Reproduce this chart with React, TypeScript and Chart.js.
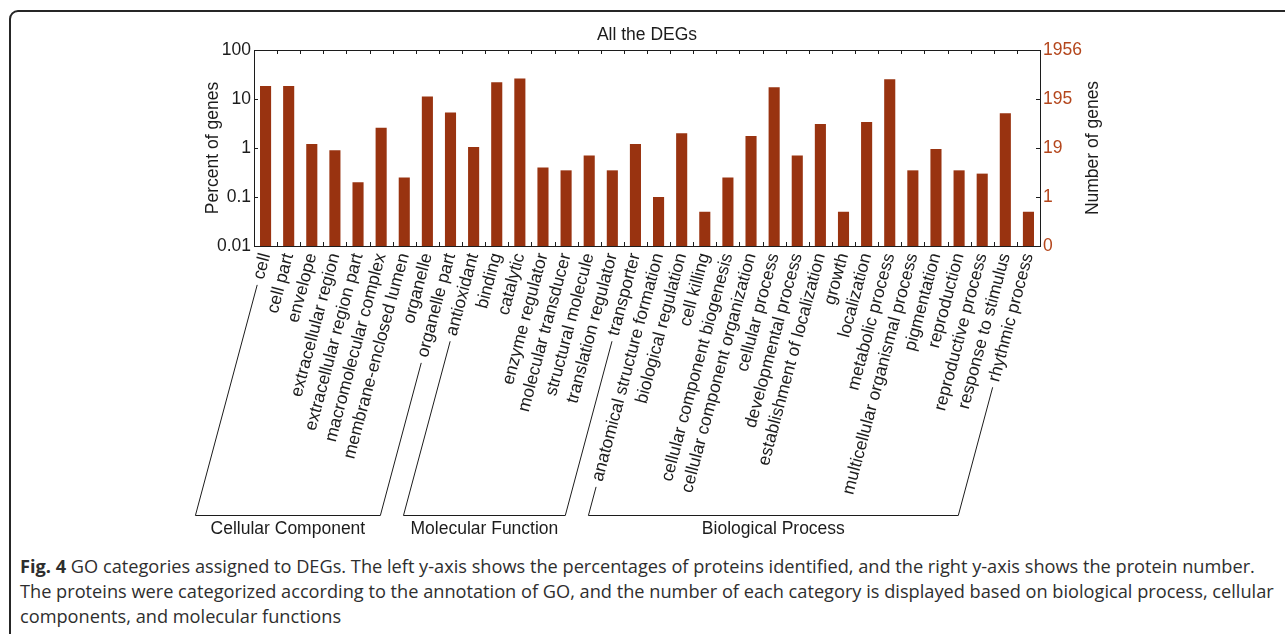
import React, { useEffect, useRef } from "react";
import { Chart, registerables } from "chart.js";

Chart.register(...registerables);

// GO categories, in plotting order
const CATEGORIES = [
  "cell",
  "cell part",
  "envelope",
  "extracellular region",
  "extracellular region part",
  "macromolecular complex",
  "membrane-enclosed lumen",
  "organelle",
  "organelle part",
  "antioxidant",
  "binding",
  "catalytic",
  "enzyme regulator",
  "molecular transducer",
  "structural molecule",
  "translation regulator",
  "transporter",
  "anatomical structure formation",
  "biological regulation",
  "cell killing",
  "cellular component biogenesis",
  "cellular component organization",
  "cellular process",
  "developmental process",
  "establishment of localization",
  "growth",
  "localization",
  "metabolic process",
  "multicellular organismal process",
  "pigmentation",
  "reproduction",
  "reproductive process",
  "response to stimulus",
  "rhythmic process",
];

// Percent of DEGs annotated to each category
const PERCENT = [
  18.5, 18.5, 1.2, 0.9, 0.2, 2.6, 0.25, 11.2, 5.3,
  1.05, 21.9, 26.1, 0.4, 0.35, 0.7, 0.35, 1.2,
  0.1, 2.0, 0.05, 0.25, 1.75, 17.4, 0.7, 3.1, 0.05, 3.4, 25.3, 0.35, 0.95, 0.35, 0.3, 5.1, 0.05,
];

// GO domains and how many consecutive categories belong to each
const GROUPS = ["Cellular Component", "Molecular Function", "Biological Process"];
const GROUP_SIZES = [9, 8, 17];

// Axis ticks (percent) and the gene total used for the right-hand axis
const TICK_VALUES = [0.01, 0.1, 1, 10, 100];
const TOTAL_GENES = 1956;

const TITLE = "All the DEGs";
const LEFT_TITLE = "Percent of genes";
const RIGHT_TITLE = "Number of genes";

const FAMILY = "'Liberation Sans', Arial, Helvetica, sans-serif";
const INK = "#1c1c1c";
const BAR = "#993310";
const RIGHT_INK = "#b4461c";
const FONT_SIZE = 17.5;
const ROTATION = 75;
const LABEL_PAD = 5;
const TICK_LEN = 4;
const BRACKET_GAP = 6;
const BRACKET_DROP = 269;

const CANVAS_W = 1285;
const CANVAS_H = 548;
const PLOT_LEFT = 254;
const PLOT_RIGHT = 1040;
const PLOT_BOTTOM = 246;

const decorPlugin = {
  id: "decor",
  afterDraw(chart: any) {
    const { ctx, chartArea: a, scales } = chart;
    const xs = scales.x;
    const ys = scales.y;
    ctx.save();

    // axes box
    ctx.strokeStyle = INK;
    ctx.lineWidth = 1;
    ctx.strokeRect(
      Math.round(a.left) + 0.5,
      Math.round(a.top) + 0.5,
      Math.round(a.right - a.left),
      Math.round(a.bottom - a.top)
    );

    // inward tick marks: between categories on x, at decades on y
    ctx.beginPath();
    for (let i = 1; i < CATEGORIES.length; i++) {
      const px = Math.round((xs.getPixelForTick(i - 1) + xs.getPixelForTick(i)) / 2) + 0.5;
      ctx.moveTo(px, a.bottom);
      ctx.lineTo(px, a.bottom - TICK_LEN);
      ctx.moveTo(px, a.top);
      ctx.lineTo(px, a.top + TICK_LEN);
    }
    for (const v of TICK_VALUES) {
      const py = Math.round(ys.getPixelForValue(v)) + 0.5;
      ctx.moveTo(a.left, py);
      ctx.lineTo(a.left + TICK_LEN, py);
      ctx.moveTo(a.right, py);
      ctx.lineTo(a.right - TICK_LEN, py);
    }
    ctx.stroke();

    // axis titles, both reading bottom to top
    const midY = (a.top + a.bottom) / 2;
    ctx.font = `${FONT_SIZE}px ${FAMILY}`;
    ctx.fillStyle = INK;
    ctx.textAlign = "center";
    ctx.textBaseline = "middle";
    for (const [tx, text] of [
      [a.left - 41, LEFT_TITLE],
      [a.right + 53, RIGHT_TITLE],
    ] as [number, string][]) {
      ctx.save();
      ctx.translate(tx, midY);
      ctx.rotate(-Math.PI / 2);
      ctx.fillText(text, 0, 0);
      ctx.restore();
    }

    // domain brackets, continuing the rotated label lines
    const ang = (ROTATION * Math.PI) / 180;
    const dx = -Math.cos(ang);
    const dy = Math.sin(ang);
    const lh = FONT_SIZE * 1.2;
    const y0 = xs.top + LABEL_PAD + (lh / 2) * Math.cos(ang);
    const bracketY = Math.round(a.bottom + BRACKET_DROP) + 0.5;
    const foot = (i: number) => {
      const w = ctx.measureText(CATEGORIES[i]).width + BRACKET_GAP;
      const sx = xs.getPixelForTick(i) + dx * w;
      const sy = y0 + dy * w;
      const t = (bracketY - sy) / dy;
      return { sx, sy, ex: sx + dx * t };
    };
    let start = 0;
    GROUPS.forEach((g, gi) => {
      const first = start;
      const last = start + GROUP_SIZES[gi] - 1;
      start += GROUP_SIZES[gi];
      const f = foot(first);
      const l = foot(last);
      ctx.beginPath();
      ctx.moveTo(f.sx, f.sy);
      ctx.lineTo(f.ex, bracketY);
      ctx.lineTo(l.ex, bracketY);
      ctx.lineTo(l.sx, l.sy);
      ctx.stroke();
      ctx.fillText(g, (f.ex + l.ex) / 2, bracketY + 14);
    });

    ctx.restore();
  },
};

export default function App() {
  const canvasRef = useRef<HTMLCanvasElement | null>(null);

  useEffect(() => {
    if (!canvasRef.current) return;
    const tickFont = { family: FAMILY, size: FONT_SIZE };
    const chart = new Chart(canvasRef.current, {
      type: "bar",
      data: {
        labels: CATEGORIES,
        datasets: [
          {
            data: PERCENT,
            backgroundColor: BAR,
            borderWidth: 0,
            barPercentage: 0.48,
            categoryPercentage: 1,
            yAxisID: "y",
          },
        ],
      },
      options: {
        responsive: false,
        animation: false,
        events: [],
        layout: { padding: 0 },
        plugins: {
          legend: { display: false },
          tooltip: { enabled: false },
          title: {
            display: true,
            text: TITLE,
            fullSize: false,
            color: INK,
            font: { family: FAMILY, size: FONT_SIZE, weight: "normal" },
            padding: { top: 24.5, bottom: 4.5 },
          },
        },
        scales: {
          x: {
            type: "category",
            grid: { display: false, drawTicks: false },
            border: { display: false },
            ticks: {
              autoSkip: false,
              minRotation: ROTATION,
              maxRotation: ROTATION,
              padding: LABEL_PAD,
              color: INK,
              font: tickFont,
            },
            afterFit: (s: any) => {
              s.height = CANVAS_H - PLOT_BOTTOM;
            },
          },
          y: {
            type: "logarithmic",
            position: "left",
            min: 0.01,
            max: 100,
            grid: { display: false, drawTicks: false },
            border: { display: false },
            afterBuildTicks: (s: any) => {
              s.ticks = TICK_VALUES.map((value) => ({ value }));
            },
            ticks: {
              padding: 3,
              color: INK,
              font: tickFont,
              callback: (v: any) => String(v),
            },
            afterFit: (s: any) => {
              s.width = PLOT_LEFT;
            },
          },
          y1: {
            type: "logarithmic",
            position: "right",
            min: 0.01,
            max: 100,
            grid: { display: false, drawTicks: false },
            border: { display: false },
            afterBuildTicks: (s: any) => {
              s.ticks = TICK_VALUES.map((value) => ({ value }));
            },
            ticks: {
              padding: 3,
              color: RIGHT_INK,
              font: tickFont,
              callback: (v: any) => String(Math.floor((Number(v) * TOTAL_GENES) / 100)),
            },
            afterFit: (s: any) => {
              s.width = CANVAS_W - PLOT_RIGHT;
            },
          },
        },
      },
      plugins: [decorPlugin],
    });
    return () => chart.destroy();
  }, []);

  return (
    <div
      style={{
        position: "fixed",
        left: 0,
        top: 0,
        width: 1285,
        height: 634,
        overflow: "hidden",
        background: "#fff",
      }}
    >
      <div
        style={{
          position: "absolute",
          left: 9,
          top: 10,
          width: 1300,
          height: 650,
          border: "2px solid #262626",
          borderRadius: 9,
          boxSizing: "border-box",
        }}
      />
      <canvas
        ref={canvasRef}
        width={CANVAS_W}
        height={CANVAS_H}
        style={{ position: "absolute", left: 0, top: 0, width: CANVAS_W, height: CANVAS_H }}
      />
      <div
        style={{
          position: "absolute",
          left: 20,
          top: 554,
          fontFamily: "'Open Sans', sans-serif",
          fontSize: 18.2,
          lineHeight: "25px",
          color: "#2e2e2e",
          whiteSpace: "nowrap",
        }}
      >
        <div>
          <b>Fig. 4</b> GO categories assigned to DEGs. The left y-axis shows the percentages of proteins identified, and the right y-axis shows the protein number.
        </div>
        <div>
          The proteins were categorized according to the annotation of GO, and the number of each category is displayed based on biological process, cellular
        </div>
        <div>components, and molecular functions</div>
      </div>
    </div>
  );
}
